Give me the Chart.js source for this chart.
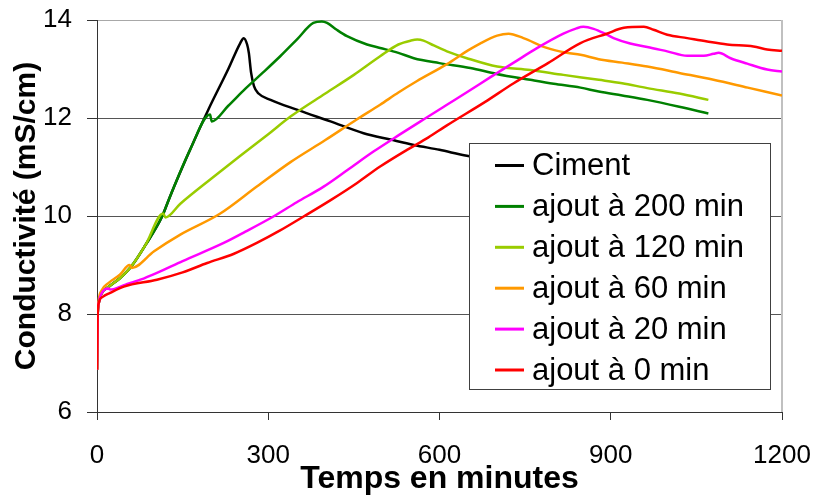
<!DOCTYPE html>
<html>
<head>
<meta charset="utf-8">
<script src="https://cdn.jsdelivr.net/npm/chart.js@4/dist/chart.umd.min.js"></script>
<style>
html,body{margin:0;padding:0;background:#fff;}
#wrap{width:814px;height:498px;}
</style>
</head>
<body>
<div id="wrap"><canvas id="c" width="814" height="498"></canvas></div>
<script>
// ---- data ----
const seriesLabels = ["Ciment", "ajout à 200 min", "ajout à 120 min", "ajout à 60 min", "ajout à 20 min", "ajout à 0 min"];
const seriesColors = ["#000000", "#008000", "#99CC00", "#FF9900", "#FF00FF", "#FF0000"];
const xTicks = [0, 300, 600, 900, 1200];
const yTicks = [6, 8, 10, 12, 14];

const cimentT = [0, 1, 3, 8, 20, 40, 60, 85, 114, 128, 163, 195, 230, 251, 257, 263, 266, 270, 275, 283, 304, 350, 409, 467, 514, 555, 600, 648, 720];
const cimentV = [6.86, 7.9, 8.22, 8.42, 8.55, 8.73, 8.97, 9.41, 9.99, 10.40, 11.35, 12.17, 13.0, 13.53, 13.63, 13.50, 13.33, 12.92, 12.65, 12.50, 12.37, 12.17, 11.93, 11.69, 11.56, 11.45, 11.35, 11.23, 11.10];

const a200T = [0, 1, 3, 8, 20, 40, 60, 85, 114, 128, 163, 198, 201, 230, 260, 290, 321, 350, 379, 394, 403, 420, 438, 473, 496, 528, 555, 600, 654, 700, 759, 800, 847, 879, 920, 964, 1020, 1071];
const a200V = [6.86, 7.9, 8.22, 8.42, 8.55, 8.73, 8.97, 9.41, 9.99, 10.40, 11.35, 12.07, 11.93, 12.25, 12.60, 12.92, 13.26, 13.60, 13.94, 13.97, 13.94, 13.80, 13.67, 13.50, 13.43, 13.33, 13.22, 13.12, 13.02, 12.90, 12.78, 12.70, 12.62, 12.54, 12.46, 12.37, 12.23, 12.09];

const a120T = [0, 1, 3, 8, 20, 40, 60, 85, 116, 120, 146, 200, 250, 300, 339, 400, 450, 496, 528, 550, 561, 572, 590, 613, 648, 701, 759, 817, 879, 920, 964, 1020, 1071];
const a120V = [6.86, 7.9, 8.22, 8.42, 8.55, 8.73, 8.97, 9.41, 10.05, 9.97, 10.25, 10.76, 11.22, 11.67, 12.03, 12.50, 12.88, 13.26, 13.50, 13.58, 13.60, 13.58, 13.48, 13.36, 13.22, 13.05, 12.98, 12.88, 12.78, 12.71, 12.61, 12.50, 12.37];

const a60T = [0, 1, 3, 8, 20, 40, 57, 61, 100, 146, 216, 280, 339, 400, 455, 496, 528, 560, 613, 650, 671, 701, 721, 747, 788, 823, 847, 879, 920, 964, 1020, 1080, 1140, 1200];
const a60V = [6.86, 7.9, 8.28, 8.48, 8.63, 8.80, 9.00, 8.94, 9.28, 9.62, 10.05, 10.60, 11.10, 11.55, 11.97, 12.27, 12.52, 12.75, 13.10, 13.38, 13.52, 13.68, 13.72, 13.63, 13.43, 13.33, 13.29, 13.20, 13.13, 13.05, 12.92, 12.78, 12.62, 12.46];

const a20T = [0, 1, 3, 8, 20, 23, 50, 76, 105, 150, 222, 260, 309, 350, 397, 440, 485, 530, 572, 613, 650, 690, 730, 770, 817, 840, 852, 870, 890, 905, 934, 964, 999, 1034, 1063, 1080, 1089, 1110, 1139, 1174, 1200];
const a20V = [6.86, 7.9, 8.22, 8.42, 8.52, 8.50, 8.60, 8.70, 8.84, 9.08, 9.45, 9.68, 9.99, 10.28, 10.60, 10.95, 11.32, 11.66, 11.97, 12.27, 12.54, 12.84, 13.13, 13.42, 13.72, 13.83, 13.86, 13.82, 13.72, 13.63, 13.52, 13.45, 13.36, 13.27, 13.27, 13.31, 13.33, 13.22, 13.11, 12.99, 12.95];

const a0T = [0, 1, 3, 10, 23, 47, 105, 150, 193, 240, 280, 320, 362, 410, 455, 496, 543, 580, 613, 680, 730, 790, 847, 893, 923, 958, 975, 999, 1034, 1069, 1104, 1150, 1174, 1200];
const a0V = [6.86, 7.9, 8.22, 8.35, 8.43, 8.56, 8.70, 8.85, 9.04, 9.23, 9.45, 9.70, 9.99, 10.33, 10.67, 11.01, 11.35, 11.60, 11.85, 12.33, 12.71, 13.12, 13.53, 13.72, 13.84, 13.86, 13.80, 13.70, 13.63, 13.56, 13.50, 13.46, 13.40, 13.37];

const seriesT = [cimentT, a200T, a120T, a60T, a20T, a0T];
const seriesV = [cimentV, a200V, a120V, a60V, a20V, a0V];

// ---- chart ----
const FONT = '"Liberation Sans", Arial, sans-serif';
const pairs = (t, v) => t.map((x, i) => ({ x: x, y: v[i] }));

const datasets = seriesLabels.map((lab, i) => ({
  label: lab,
  data: pairs(seriesT[i], seriesV[i]),
  borderColor: seriesColors[i],
  backgroundColor: seriesColors[i],
  borderWidth: 2.5,
  pointRadius: 0,
  cubicInterpolationMode: 'monotone',
  fill: false,
  order: seriesLabels.length - 1 - i
}));

const plotFrame = {
  id: 'plotFrame',
  beforeDatasetsDraw(chart) {
    const { ctx, chartArea: a } = chart;
    ctx.save();
    ctx.strokeStyle = '#c0c0c0';
    ctx.lineWidth = 2;
    ctx.beginPath();
    ctx.moveTo(a.right, a.top);
    ctx.lineTo(a.right, a.bottom);
    ctx.stroke();
    ctx.restore();
  }
};

const boxLegend = {
  id: 'boxLegend',
  afterDatasetsDraw(chart) {
    const { ctx, chartArea: a } = chart;
    const x0 = Math.round(a.left + 371.5), y0 = Math.round(a.top + 122.5);
    const w = 301, h = 246;
    ctx.save();
    ctx.fillStyle = '#ffffff';
    ctx.fillRect(x0, y0, w, h);
    ctx.strokeStyle = '#404040';
    ctx.lineWidth = 1;
    ctx.strokeRect(x0 + 0.5, y0 + 0.5, w, h);
    ctx.font = '31px ' + FONT;
    ctx.textBaseline = 'middle';
    ctx.textAlign = 'left';
    chart.data.datasets.forEach((ds, i) => {
      const cy = y0 + 22.5 + i * 40.9;
      ctx.strokeStyle = ds.borderColor;
      ctx.lineWidth = 3;
      ctx.beginPath();
      ctx.moveTo(x0 + 26, cy);
      ctx.lineTo(x0 + 55, cy);
      ctx.stroke();
      ctx.fillStyle = '#000000';
      ctx.fillText(ds.label, x0 + 63, cy + 1);
    });
    ctx.restore();
  }
};

new Chart(document.getElementById('c'), {
  type: 'line',
  data: { datasets: datasets },
  options: {
    responsive: false,
    animation: false,
    devicePixelRatio: 1,
    layout: { padding: { left: 0, top: 20, right: 32, bottom: 0 } },
    plugins: { legend: { display: false }, tooltip: { enabled: false } },
    scales: {
      x: {
        type: 'linear',
        min: xTicks[0],
        max: xTicks[xTicks.length - 1],
        afterBuildTicks: s => { s.ticks = xTicks.map(v => ({ value: v })); },
        afterFit: s => { s.height = 86; },
        grid: { drawOnChartArea: false, drawTicks: true, tickLength: 8, tickColor: '#333333', tickWidth: 1 },
        border: { display: true, color: '#333333', width: 1 },
        ticks: { color: '#000000', font: { family: FONT, size: 26, lineHeight: '69px' }, padding: 1, maxRotation: 0, callback: v => String(v) },
        title: { display: true, text: 'Temps en minutes', color: '#000000', font: { family: FONT, size: 32, weight: 'bold' }, padding: { top: 0, bottom: 0 } }
      },
      y: {
        min: yTicks[0],
        max: yTicks[yTicks.length - 1],
        afterBuildTicks: s => { s.ticks = yTicks.map(v => ({ value: v })); },
        afterFit: s => { s.width = 97; },
        grid: {
          drawTicks: true, tickLength: 10, tickColor: '#333333',
          color: c => (c.tick && c.tick.value === 14) ? '#a8a8a8' : '#555555',
          lineWidth: 1
        },
        border: { display: true, color: '#333333', width: 1 },
        ticks: { color: '#000000', font: { family: FONT, size: 26, lineHeight: '8px' }, padding: 15, callback: v => String(v) },
        title: { display: true, text: 'Conductivité (mS/cm)', color: '#000000', font: { family: FONT, size: 30, weight: 'bold' }, padding: { top: 9, bottom: 0 } }
      }
    }
  },
  plugins: [plotFrame, boxLegend]
});
</script>
</body>
</html>
